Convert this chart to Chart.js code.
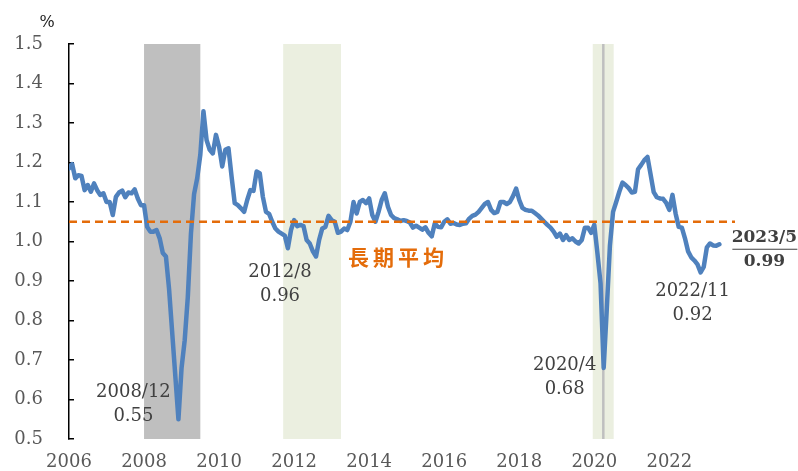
<!DOCTYPE html>
<html>
<head>
<meta charset="utf-8">
<script src="https://cdn.jsdelivr.net/npm/chart.js@4.4.0/dist/chart.umd.min.js"></script>
<style>
  html, body { margin: 0; padding: 0; background: #fff; }
</style>
</head>
<body>
<canvas id="chart" width="798" height="471"></canvas>
<script>
// monthly ratio, 2006/1 .. 2023/5 (one row per year)
const startYear = 2006
const ratio = [
  1.185, 1.196, 1.16, 1.168, 1.166, 1.13, 1.143, 1.126, 1.147, 1.13, 1.118, 1.122,
  1.10, 1.10, 1.067, 1.113, 1.124, 1.129, 1.112, 1.124, 1.122, 1.132, 1.109, 1.092,
  1.092, 1.037, 1.025, 1.025, 1.029, 1.008, 0.971, 0.962, 0.88, 0.77, 0.66, 0.55,
  0.68, 0.75, 0.86, 1.02, 1.12, 1.16, 1.22, 1.33, 1.257, 1.232, 1.223, 1.27,
  1.24, 1.19, 1.232, 1.236, 1.164, 1.097, 1.092, 1.084, 1.075, 1.105, 1.13, 1.128,
  1.177, 1.173, 1.113, 1.075, 1.07, 1.05, 1.033, 1.025, 1.02, 1.015, 0.983, 1.029,
  1.054, 1.039, 1.042, 1.039, 1.004, 0.995, 0.975, 0.962, 1.004, 1.033, 1.037, 1.065,
  1.054, 1.05, 1.022, 1.025, 1.033, 1.029, 1.05, 1.10, 1.071, 1.10, 1.105, 1.097,
  1.109, 1.067, 1.05, 1.075, 1.105, 1.122, 1.088, 1.067, 1.059, 1.056, 1.052, 1.054,
  1.052, 1.048, 1.035, 1.04, 1.035, 1.03, 1.036, 1.022, 1.013, 1.046, 1.037, 1.036,
  1.05, 1.056, 1.045, 1.047, 1.043, 1.042, 1.045, 1.046, 1.058, 1.065, 1.068, 1.075,
  1.085, 1.095, 1.10, 1.08, 1.072, 1.075, 1.10, 1.10, 1.095, 1.10, 1.115, 1.134,
  1.105, 1.085, 1.08, 1.078, 1.078, 1.072, 1.066, 1.058, 1.05, 1.042, 1.035, 1.025,
  1.012, 1.02, 1.004, 1.016, 1.004, 1.008, 1.0, 0.995, 1.004, 1.035, 1.035, 1.022,
  1.042, 0.97, 0.894, 0.68, 0.83, 0.99, 1.075, 1.10, 1.126, 1.149, 1.143, 1.135,
  1.124, 1.126, 1.183, 1.194, 1.206, 1.214, 1.17, 1.125, 1.112, 1.109, 1.108, 1.098,
  1.08, 1.118, 1.071, 1.037, 1.035, 1.008, 0.975, 0.96, 0.952, 0.942, 0.922, 0.936,
  0.985, 0.995, 0.99, 0.989, 0.993
]
const longTermAvg = 1.05

// shaded periods, in months since 2006/1
const bandFrom = [24, 68.5, 167.5]
const bandTo = [42, 87, 174.2]
const bandColors = ['#bfbfbf', '#ebefe0', '#ebefe0']
const shockMonth = 170.8

// labelled points (month index) and label offsets in px
const noteIdx = [35, 79, 171, 202]
const noteDx = [-45, -36, -39, -8]
const noteDy = [-27, 16, -3, 19]
const avgLabel = '長期平均'
const avgLabelMonth = 89.2

function monthName(i) {
  return (startYear + Math.floor(i / 12)) + '/' + (i % 12 + 1)
}

const bandsPlugin = {
  id: 'bands',
  beforeDatasetsDraw(chart) {
    const {ctx, chartArea, scales: {x}} = chart
    ctx.save()
    bandFrom.forEach((b, i) => {
      const x1 = x.getPixelForValue(b)
      const x2 = x.getPixelForValue(bandTo[i])
      ctx.fillStyle = bandColors[i]
      ctx.fillRect(x1, chartArea.top, x2 - x1, chartArea.bottom - chartArea.top)
    })
    ctx.fillStyle = '#bfbfbf'
    ctx.fillRect(x.getPixelForValue(shockMonth) - 1, chartArea.top, 2.5, chartArea.bottom - chartArea.top)
    ctx.restore()
  }
}

const notesPlugin = {
  id: 'notes',
  afterDatasetsDraw(chart) {
    const {ctx, chartArea, scales: {x, y}} = chart
    ctx.save()
    ctx.textAlign = 'center'
    ctx.textBaseline = 'middle'
    ctx.fillStyle = '#404040'
    ctx.font = '18px "DejaVu Serif"'
    noteIdx.forEach((m, i) => {
      const px = x.getPixelForValue(m) + noteDx[i]
      const py = y.getPixelForValue(ratio[m]) + noteDy[i]
      ctx.fillText(monthName(m), px, py)
      ctx.fillText(ratio[m].toFixed(2), px, py + 24)
    })

    // latest value
    const last = ratio.length - 1
    const lx = x.getPixelForValue(last) + 45
    const ly = y.getPixelForValue(ratio[last]) - 7
    ctx.font = 'bold 17px "DejaVu Serif"'
    ctx.fillText(monthName(last), lx, ly)
    ctx.fillText(ratio[last].toFixed(2), lx, ly + 24)
    ctx.strokeStyle = '#404040'
    ctx.lineWidth = 1.2
    ctx.beginPath()
    ctx.moveTo(lx - 32, ly + 12)
    ctx.lineTo(lx + 33, ly + 12)
    ctx.stroke()

    // long-term average label
    ctx.textAlign = 'left'
    ctx.fillStyle = '#e46c0a'
    ctx.font = 'bold 21px "Noto Sans CJK TC"'
    ctx.letterSpacing = '4px'
    ctx.fillText(avgLabel, x.getPixelForValue(avgLabelMonth), y.getPixelForValue(longTermAvg) + 35)
    ctx.letterSpacing = '0px'

    // unit
    ctx.textAlign = 'center'
    ctx.fillStyle = '#222'
    ctx.font = '16px "DejaVu Serif"'
    ctx.fillText('%', chartArea.left - 22, chartArea.top - 21)
    ctx.restore()
  }
}

const tickFont = {family: 'DejaVu Serif', size: 18}

new Chart(document.querySelector('#chart'), {
  type: 'line',
  data: {
    datasets: [
      {
        label: 'avg',
        data: [{x: 0, y: longTermAvg}, {x: 213, y: longTermAvg}],
        borderColor: '#e46c0a',
        borderWidth: 2.5,
        borderDash: [8, 5],
        pointRadius: 0,
        order: 0
      },
      {
        label: 'ratio',
        data: ratio.map((v, i) => ({x: i, y: v})),
        borderColor: '#4f81bd',
        borderWidth: 4.5,
        borderJoinStyle: 'round',
        borderCapStyle: 'round',
        pointRadius: 0,
        tension: 0,
        order: 1
      }
    ]
  },
  options: {
    responsive: false,
    animation: false,
    layout: {padding: {top: 44, right: 63, bottom: 0, left: 0}},
    plugins: {legend: {display: false}, tooltip: {enabled: false}},
    scales: {
      x: {
        type: 'linear',
        min: 0,
        max: 213,
        grid: {display: false, drawTicks: false},
        border: {display: false},
        ticks: {
          stepSize: 24,
          autoSkip: false,
          includeBounds: false,
          maxRotation: 0,
          padding: 13,
          color: '#595959',
          font: tickFont,
          callback: v => (v % 24 === 0 ? String(startYear + v / 12) : '')
        },
        afterFit(s) { s.height = 32 }
      },
      y: {
        min: 0.5,
        max: 1.5,
        grid: {drawOnChartArea: false, tickLength: -5, color: '#000', lineWidth: 1.5},
        border: {display: true, color: '#000', width: 1.5},
        ticks: {
          stepSize: 0.1,
          padding: 31,
          color: '#595959',
          font: tickFont,
          callback: v => v.toFixed(1)
        },
        afterFit(s) {
          s.width = 69
          s.paddingTop = 0
          s.paddingBottom = 0
        }
      }
    }
  },
  plugins: [bandsPlugin, notesPlugin]
})
</script>
</body>
</html>
